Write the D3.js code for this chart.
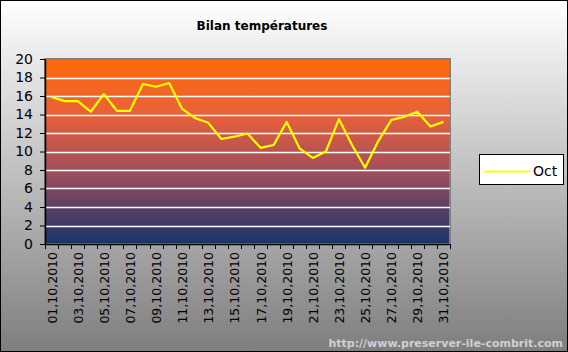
<!DOCTYPE html>
<html>
<head>
<meta charset="utf-8">
<script src="https://cdn.jsdelivr.net/npm/d3@7"></script>
<style>
  body { margin: 0; }
  svg { display: block; }
</style>
</head>
<body>
<div id="chart"></div>
<script>
// daily temperatures, October 2010
var days = d3.range(1, 32).map(function(d) { return (d < 10 ? "0" + d : "" + d) + ",10,2010"; });
var temps = [15.9, 15.45, 15.45, 14.3, 16.2, 14.4, 14.4, 17.3, 17.0, 17.4,
             14.6, 13.6, 13.1, 11.35, 11.6, 11.95, 10.4, 10.7, 13.2, 10.3,
             9.3, 10.0, 13.5, 10.7, 8.25, 11.1, 13.4, 13.75, 14.3, 12.7, 13.2];
var yTicks = [0, 2, 4, 6, 8, 10, 12, 14, 16, 18, 20];
var seriesName = "Oct";
var title = "Bilan températures";
var url = "http://www.preserver-ile-combrit.com";

var W = 568, H = 352;
var plot = {left: 45, right: 450, top: 59, bottom: 244};
var font = "'DejaVu Sans', sans-serif";

var svg = d3.select("#chart").append("svg")
    .attr("width", W)
    .attr("height", H);

var defs = svg.append("defs");
var bg = defs.append("linearGradient").attr("id", "bg")
    .attr("x1", 0).attr("y1", 0).attr("x2", 0).attr("y2", 1);
bg.append("stop").attr("offset", "0%").attr("stop-color", "#ffffff");
bg.append("stop").attr("offset", "100%").attr("stop-color", "#7e7e7e");

var pg = defs.append("linearGradient").attr("id", "plotbg")
    .attr("x1", 0).attr("y1", 0).attr("x2", 0).attr("y2", 1);
pg.append("stop").attr("offset", "0%").attr("stop-color", "#ff6a08");
pg.append("stop").attr("offset", "30%").attr("stop-color", "#e9613a");
pg.append("stop").attr("offset", "60%").attr("stop-color", "#a24e5c");
pg.append("stop").attr("offset", "100%").attr("stop-color", "#18336a");

// chart background + outer frame
svg.append("rect")
    .attr("x", 0.5).attr("y", 0.5)
    .attr("width", W - 1).attr("height", H - 1)
    .attr("fill", "url(#bg)")
    .attr("stroke", "#000");

var x = d3.scaleBand()
    .domain(days)
    .range([plot.left, plot.right])
    .padding(0);

var y = d3.scaleLinear()
    .domain([0, 20])
    .range([plot.bottom, plot.top]);

// plot area
svg.append("rect")
    .attr("x", plot.left).attr("y", plot.top)
    .attr("width", plot.right - plot.left)
    .attr("height", plot.bottom - plot.top)
    .attr("fill", "url(#plotbg)")
    .attr("stroke", "#808080")
    .attr("stroke-width", 2);

// gridlines
svg.append("g")
    .selectAll("line")
    .data(yTicks.filter(function(d) { return d > 0 && d < 20; }))
    .join("line")
    .attr("x1", plot.left).attr("x2", plot.right)
    .attr("y1", function(d) { return Math.round(y(d)) + 0.5; })
    .attr("y2", function(d) { return Math.round(y(d)) + 0.5; })
    .attr("stroke", "#fff")
    .attr("stroke-width", 1.5);

// y axis
var yAxis = svg.append("g")
    .attr("transform", "translate(" + plot.left + ",0)")
    .call(d3.axisLeft(y).tickValues(yTicks).tickSize(5).tickPadding(7).tickSizeOuter(0));
yAxis.select(".domain").attr("stroke", "#000").attr("stroke-width", 1.5);
yAxis.selectAll(".tick line").attr("stroke", "#000");
yAxis.selectAll("text")
    .attr("font-family", font)
    .attr("font-size", 14)
    .attr("fill", "#000");

// x axis: ticks on category boundaries
var xg = svg.append("g");
xg.append("line")
    .attr("x1", plot.left).attr("x2", plot.right)
    .attr("y1", plot.bottom + 0.5).attr("y2", plot.bottom + 0.5)
    .attr("stroke", "#000").attr("stroke-width", 1.5);
var bounds = days.map(function(d) { return x(d); }).concat([plot.right]);
xg.selectAll("line.tk")
    .data(bounds)
    .join("line")
    .attr("class", "tk")
    .attr("x1", function(d) { return Math.round(d) + 0.5; })
    .attr("x2", function(d) { return Math.round(d) + 0.5; })
    .attr("y1", plot.bottom).attr("y2", plot.bottom + 5)
    .attr("stroke", "#000");
xg.selectAll("text")
    .data(days.filter(function(d, i) { return i % 2 === 0; }))
    .join("text")
    .attr("transform", function(d) {
        return "translate(" + (x(d) + x.bandwidth() / 2 + 5) + "," + (plot.bottom + 8) + ") rotate(-90)";
    })
    .attr("text-anchor", "end")
    .attr("font-family", font)
    .attr("font-size", 12.5)
    .attr("fill", "#000")
    .text(function(d) { return d; });

// the line
var line = d3.line()
    .x(function(d, i) { return x(days[i]) + x.bandwidth() / 2; })
    .y(function(d) { return y(d); });

svg.append("path")
    .datum(temps)
    .attr("fill", "none")
    .attr("stroke", "#ffff00")
    .attr("stroke-width", 2.2)
    .attr("stroke-linejoin", "round")
    .attr("d", line);

// title
svg.append("text")
    .attr("x", 262).attr("y", 30)
    .attr("text-anchor", "middle")
    .attr("font-family", font)
    .attr("font-weight", "bold")
    .attr("font-size", 12)
    .attr("fill", "#000")
    .text(title);

// legend
var lg = svg.append("g");
lg.append("rect")
    .attr("x", 479.5).attr("y", 154.5)
    .attr("width", 84).attr("height", 30)
    .attr("fill", "#fff")
    .attr("stroke", "#000");
lg.append("line")
    .attr("x1", 484).attr("x2", 530)
    .attr("y1", 171.5).attr("y2", 171.5)
    .attr("stroke", "#ffff00")
    .attr("stroke-width", 2);
lg.append("text")
    .attr("x", 533).attr("y", 176)
    .attr("font-family", font)
    .attr("font-size", 14)
    .attr("fill", "#000")
    .text(seriesName);

// url watermark
svg.append("text")
    .attr("x", 563).attr("y", 347)
    .attr("text-anchor", "end")
    .attr("font-family", font)
    .attr("font-weight", "bold")
    .attr("font-size", 11)
    .attr("fill", "#d0d0d0")
    .text(url);
</script>
</body>
</html>
